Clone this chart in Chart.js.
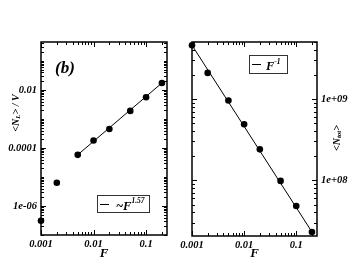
<!DOCTYPE html>
<html>
<head>
<meta charset="utf-8">
<script src="https://cdn.jsdelivr.net/npm/chart.js@4.4.1/dist/chart.umd.min.js"></script>
<style>
  html, body { margin: 0; padding: 0; background: #fff; }
  #wrap { position: relative; width: 359px; height: 278px; overflow: hidden; }
  #c1 { position: absolute; left: 0; top: 0; }
  #c2 { position: absolute; left: 180px; top: 0; }
</style>
</head>
<body>
<div id="wrap">
  <canvas id="c1" width="180" height="278"></canvas>
  <canvas id="c2" width="179" height="278"></canvas>
</div>
<script>
// forcing values
const F = [0.001, 0.002, 0.005, 0.01, 0.02, 0.05, 0.1, 0.2];
// left panel: <N_L>/V
const NL_V = [3.1e-7, 6.3e-6, 5.8e-5, 1.8e-4, 4.5e-4, 1.9e-3, 5.6e-3, 1.74e-2];
// right panel: <N_tot>
const N_TOT = [4.6e9, 2.1e9, 9.6e8, 4.9e8, 2.4e8, 9.8e7, 4.8e7, 2.3e7];
// fit lines (~F^1.57 and F^-1)
const FIT_L_F = [0.005, 0.2];
const FIT_L_Y = [5.8e-5, 1.74e-2];
const FIT_TOT_F = [0.001, 0.2];
const FIT_TOT_Y = [4.6e9, 2.3e7];
// tick labels
const X_TICKS = [0.001, 0.01, 0.1];
const X_LABELS = ["0.001", "0.01", "0.1"];
const YL_TICKS = [1e-6, 1e-4, 1e-2];
const YL_LABELS = ["1e-06", "0.0001", "0.01"];
const YR_TICKS = [1e8, 1e9];
const YR_LABELS = ["1e+08", "1e+09"];

const SERIF = "'Liberation Serif', 'DejaVu Serif', serif";
const tickFont = { family: SERIF, size: 10.5, style: "italic", weight: "bold" };

function sameVal(a, b) {
  return Math.abs(Math.log10(a) - Math.log10(b)) < 1e-6;
}
function isMajor(list, v) {
  return list.some((t) => sameVal(t, v));
}

// 1..9 x 10^k ticks inside the range (edges included)
function logTicks(scale) {
  const out = [];
  const k0 = Math.floor(Math.log10(scale.min));
  const k1 = Math.ceil(Math.log10(scale.max));
  for (let k = k0; k <= k1; k++) {
    for (let m = 1; m <= 9; m++) {
      const v = m * Math.pow(10, k);
      if (v >= scale.min * 0.9999 && v <= scale.max * 1.0001) out.push({ value: v });
    }
  }
  scale.ticks = out;
}

function labelFor(vals, labels) {
  return (v) => {
    const i = vals.findIndex((t) => sameVal(t, v));
    return i < 0 ? "" : labels[i];
  };
}

function pts(xs, ys) {
  return xs.map((x, i) => ({ x: x, y: ys[i] }));
}

function font(size, ctx) {
  ctx.font = "italic bold " + size + "px " + SERIF;
}

// draws pieces of text one after the other, pieces: [text, size, dy]
function richText(ctx, x, y, pieces) {
  let cx = x;
  pieces.forEach(([t, size, dy]) => {
    font(size, ctx);
    ctx.fillText(t, cx, y + dy);
    cx += ctx.measureText(t).width;
  });
  return cx - x;
}
function richWidth(ctx, pieces) {
  let w = 0;
  pieces.forEach(([t, size]) => {
    font(size, ctx);
    w += ctx.measureText(t).width;
  });
  return w;
}
function rotatedText(ctx, cx, cy, pieces) {
  ctx.save();
  ctx.translate(cx, cy);
  ctx.rotate(-Math.PI / 2);
  ctx.textBaseline = "middle";
  const w = richWidth(ctx, pieces);
  richText(ctx, -w / 2, 0, pieces);
  ctx.restore();
}

const framePlugin = {
  id: "frame",
  beforeDatasetsDraw(chart, args, opts) {
    const { ctx, chartArea: a, scales } = chart;
    ctx.save();
    ctx.strokeStyle = "#000";
    ctx.lineWidth = 1;
    ctx.beginPath();
    scales.x.ticks.forEach((t) => {
      const px = Math.round(scales.x.getPixelForValue(t.value)) + 0.5;
      const len = isMajor(opts.majorX, t.value) ? 5 : 3;
      ctx.moveTo(px, a.bottom); ctx.lineTo(px, a.bottom - len);
      ctx.moveTo(px, a.top); ctx.lineTo(px, a.top + len);
    });
    scales.y.ticks.forEach((t) => {
      const py = Math.round(scales.y.getPixelForValue(t.value)) + 0.5;
      const len = isMajor(opts.majorY, t.value) ? 5 : 3;
      ctx.moveTo(a.left, py); ctx.lineTo(a.left + len, py);
      ctx.moveTo(a.right, py); ctx.lineTo(a.right - len, py);
    });
    ctx.stroke();
    ctx.lineWidth = 1.5;
    ctx.strokeRect(a.left, a.top, a.right - a.left, a.bottom - a.top);
    ctx.restore();
  },
  afterDraw(chart, args, opts) {
    const { ctx, chartArea: a } = chart;
    ctx.save();
    ctx.fillStyle = "#000";
    ctx.textBaseline = "alphabetic";
    // x title
    font(13, ctx);
    ctx.textAlign = "center";
    ctx.fillText("F", (a.left + a.right) / 2, 257);
    ctx.textAlign = "left";
    if (opts.draw) opts.draw(ctx, a);
    ctx.restore();
  },
};

function xScale(h) {
  return {
    type: "logarithmic",
    position: "bottom",
    min: 0.001,
    max: 0.25,
    grid: { display: false, drawTicks: false },
    border: { display: false },
    afterBuildTicks: logTicks,
    afterFit: (s) => { s.height = h; s.paddingLeft = 0; s.paddingRight = 0; },
    ticks: {
      autoSkip: false, maxRotation: 0, minRotation: 0, padding: 3,
      font: tickFont, color: "#000",
      callback: labelFor(X_TICKS, X_LABELS),
    },
  };
}

function yScale(pos, min, max, w, vals, labels) {
  return {
    type: "logarithmic",
    position: pos,
    min: min,
    max: max,
    grid: { display: false, drawTicks: false },
    border: { display: false },
    afterBuildTicks: logTicks,
    afterFit: (s) => { s.width = w; s.paddingTop = 0; s.paddingBottom = 0; },
    ticks: {
      autoSkip: false, padding: 4,
      font: tickFont, color: "#000",
      callback: labelFor(vals, labels),
    },
  };
}

const common = {
  responsive: false,
  animation: false,
  events: [],
  plugins: { legend: { display: false }, tooltip: { enabled: false } },
};

// left panel
new Chart(document.getElementById("c1"), {
  type: "scatter",
  data: {
    datasets: [
      {
        data: pts(FIT_L_F, FIT_L_Y),
        showLine: true,
        borderColor: "#000",
        borderWidth: 1,
        pointRadius: 0,
        clip: false,
      },
      {
        data: pts(F, NL_V),
        pointRadius: 3.3,
        pointBackgroundColor: "#000",
        pointBorderColor: "#000",
        pointBorderWidth: 0,
        clip: false,
      },
    ],
  },
  options: {
    ...common,
    layout: { padding: { top: 42, right: 13, left: 0, bottom: 0 } },
    scales: {
      x: xScale(43),
      y: yScale("left", 1e-7, 0.45, 41, YL_TICKS, YL_LABELS),
    },
    plugins: {
      ...common.plugins,
      frame: {
        majorX: X_TICKS,
        majorY: YL_TICKS,
        draw(ctx, a) {
          font(17, ctx);
          ctx.fillText("(b)", 55, 73);
          rotatedText(ctx, 16, 113, [["<N", 10, 0], ["L", 7, 2.5], ["> / V", 10, 0]]);
          // legend
          ctx.strokeStyle = "#333";
          ctx.lineWidth = 1;
          ctx.strokeRect(97.5, 195.5, 52, 17);
          ctx.strokeStyle = "#000";
          ctx.beginPath();
          ctx.moveTo(100, 204.5); ctx.lineTo(109, 204.5);
          ctx.stroke();
          richText(ctx, 116, 209.5, [["~F", 12.5, 0], ["1.57", 7.5, -6.5]]);
        },
      },
    },
  },
  plugins: [framePlugin],
});

// right panel
new Chart(document.getElementById("c2"), {
  type: "scatter",
  data: {
    datasets: [
      {
        data: pts(FIT_TOT_F, FIT_TOT_Y),
        showLine: true,
        borderColor: "#000",
        borderWidth: 1,
        pointRadius: 0,
        clip: false,
      },
      {
        data: pts(F, N_TOT),
        pointRadius: 3.3,
        pointBackgroundColor: "#000",
        pointBorderColor: "#000",
        pointBorderWidth: 0,
        clip: false,
      },
    ],
  },
  options: {
    ...common,
    layout: { padding: { top: 42, right: 0, left: 12, bottom: 0 } },
    scales: {
      x: xScale(42),
      y: yScale("right", 2.05e7, 5.05e9, 42, YR_TICKS, YR_LABELS),
    },
    plugins: {
      ...common.plugins,
      frame: {
        majorX: X_TICKS,
        majorY: YR_TICKS,
        draw(ctx, a) {
          rotatedText(ctx, 157, 138, [["<N", 10, 0], ["tot", 7, 2.5], [">", 10, 0]]);
          // legend
          ctx.strokeStyle = "#333";
          ctx.lineWidth = 1;
          ctx.strokeRect(69.5, 55.5, 38, 18);
          ctx.strokeStyle = "#000";
          ctx.beginPath();
          ctx.moveTo(72, 64.5); ctx.lineTo(81, 64.5);
          ctx.stroke();
          richText(ctx, 86, 70, [["F", 12.5, 0], ["-1", 7.5, -6.5]]);
        },
      },
    },
  },
  plugins: [framePlugin],
});
</script>
</body>
</html>
